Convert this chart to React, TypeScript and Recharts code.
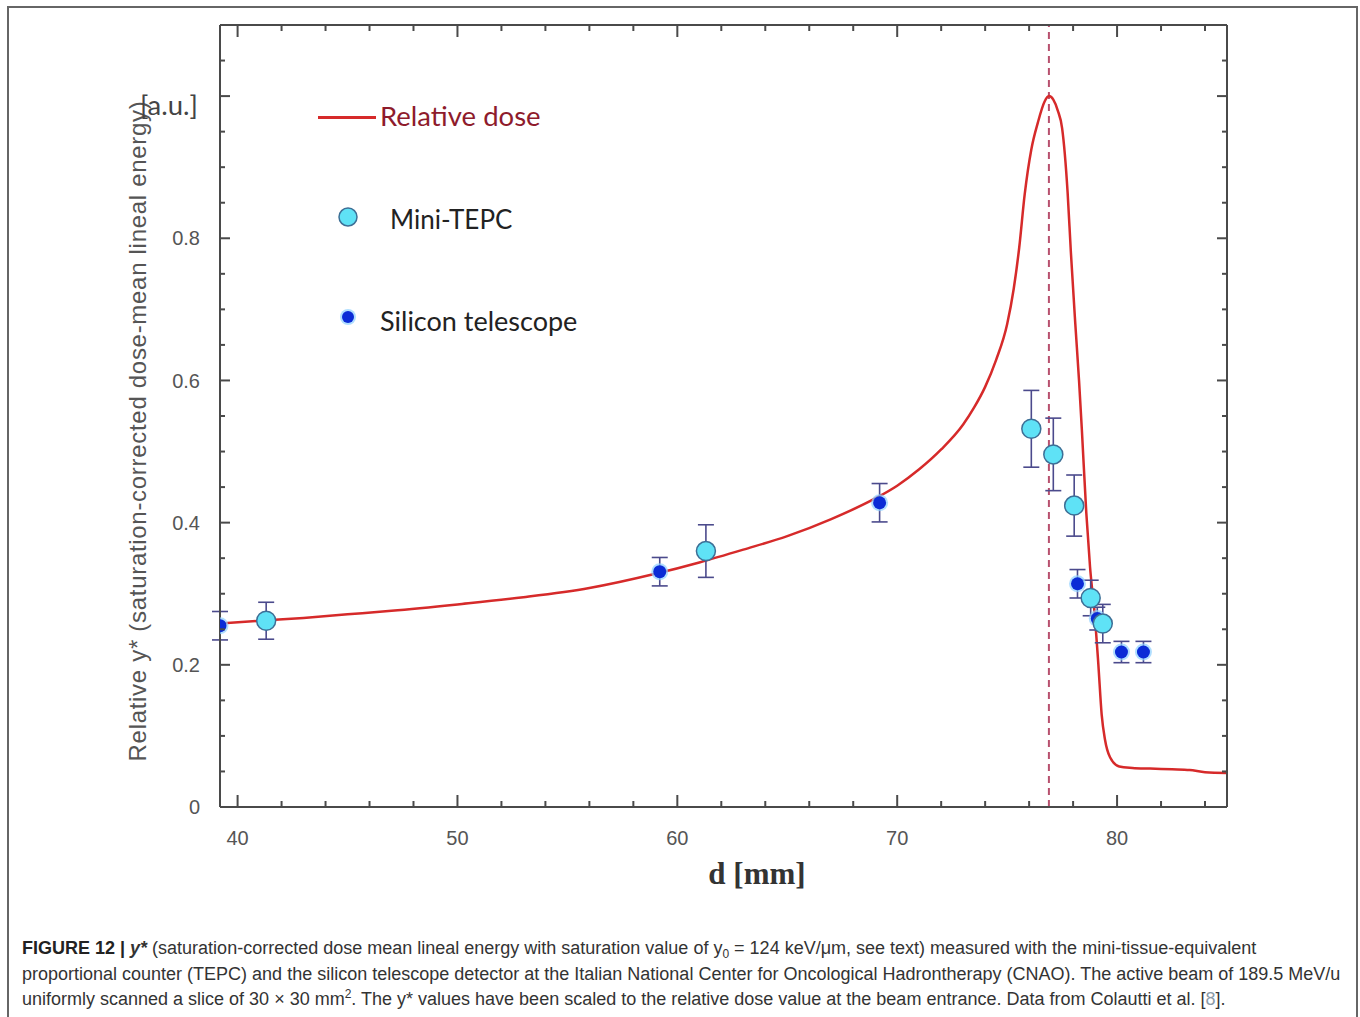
import React from "react";
import {
  ComposedChart,
  Line,
  Scatter,
  ErrorBar,
  XAxis,
  YAxis,
  ReferenceLine,
  Legend,
} from "recharts";

// relative dose curve
const doseX = [
  39.2, 41, 43, 45, 47, 50, 53, 56, 59, 61, 63, 65, 67, 69, 70, 71, 72, 73,
  73.5, 74, 74.5, 75, 75.3, 75.55, 75.8, 76.1, 76.4, 76.7, 76.9, 77.1, 77.3,
  77.5, 77.75, 77.9, 78.1, 78.27, 78.4, 78.6, 78.77, 79.0, 79.15, 79.3, 79.45,
  79.68, 80.1, 80.7, 81.5, 82.5, 83.3, 84, 85,
];
const doseY = [
  0.258, 0.262, 0.266, 0.271, 0.276, 0.285, 0.295, 0.308, 0.328, 0.344, 0.362,
  0.381, 0.405, 0.434, 0.452, 0.475, 0.503, 0.538, 0.562, 0.591, 0.629, 0.679,
  0.729, 0.787, 0.862, 0.925, 0.963, 0.992, 1.0, 0.995, 0.98, 0.955, 0.865,
  0.78, 0.68, 0.6, 0.53, 0.414, 0.338, 0.265, 0.2, 0.13, 0.095, 0.07, 0.057,
  0.055, 0.054, 0.053, 0.052, 0.049, 0.048,
];

// mini-TEPC
const tepcX = [41.3, 61.3, 76.1, 77.1, 78.05, 78.8, 79.35];
const tepcY = [0.262, 0.36, 0.532, 0.496, 0.424, 0.294, 0.258];
const tepcErr = [0.026, 0.037, 0.054, 0.051, 0.043, 0.025, 0.027];

// silicon telescope
const siX = [39.2, 59.2, 69.2, 78.2, 79.1, 80.2, 81.2];
const siY = [0.255, 0.331, 0.428, 0.314, 0.265, 0.218, 0.218];
const siErr = [0.02, 0.02, 0.027, 0.02, 0.016, 0.015, 0.015];

const peakX = 76.9;

const xTicks = [
  40, 42, 44, 46, 48, 50, 52, 54, 56, 58, 60, 62, 64, 66, 68, 70, 72, 74, 76,
  78, 80, 82, 84,
];
const xLabels = [40, 50, 60, 70, 80];
const yTicks = [
  0, 0.05, 0.1, 0.15, 0.2, 0.25, 0.3, 0.35, 0.4, 0.45, 0.5, 0.55, 0.6, 0.65,
  0.7, 0.75, 0.8, 0.85, 0.9, 0.95, 1.0, 1.05,
];
const yMajor = [0, 0.2, 0.4, 0.6, 0.8, 1.0];
const yLabels = [0, 0.2, 0.4, 0.6, 0.8];

const doseData = doseX.map((x, i) => ({ x, y: doseY[i] }));
const tepcData = tepcX.map((x, i) => ({ x, y: tepcY[i], e: tepcErr[i] }));
const siData = siX.map((x, i) => ({ x, y: siY[i], e: siErr[i] }));

const has = (arr: number[], v: number) => arr.some((a) => Math.abs(a - v) < 1e-6);

const AXIS = "#4a4a4a";
const TICK_TXT = "#555";
const ERR = "#4b4a8c";
const labelFont = "'Liberation Sans', Arial, sans-serif";
const legendFont = "Lato, 'Open Sans', sans-serif";

const LeftTick = (p: any) => {
  const v = p.payload.value;
  const ax = p.x + 20;
  const major = has(yMajor, v);
  return (
    <g>
      <line x1={ax} x2={ax + (major ? 10 : 5)} y1={p.y} y2={p.y} stroke={AXIS} strokeWidth={2} />
      {has(yLabels, v) && (
        <text x={p.x} y={p.y} dy="0.36em" textAnchor="end" fontSize={20} fill={TICK_TXT} fontFamily={labelFont}>
          {v === 0 ? "0" : v.toFixed(1)}
        </text>
      )}
    </g>
  );
};

const RightTick = (p: any) => {
  const major = has(yMajor, p.payload.value);
  return <line x1={p.x} x2={p.x - (major ? 10 : 5)} y1={p.y} y2={p.y} stroke={AXIS} strokeWidth={2} />;
};

const BottomTick = (p: any) => {
  const v = p.payload.value;
  const ay = p.y - 31;
  const major = has(xLabels, v);
  return (
    <g>
      <line x1={p.x} x2={p.x} y1={ay} y2={ay - (major ? 12 : 6)} stroke={AXIS} strokeWidth={2} />
      {major && (
        <text x={p.x} y={p.y} dy="0.36em" textAnchor="middle" fontSize={20} fill={TICK_TXT} fontFamily={labelFont}>
          {v}
        </text>
      )}
    </g>
  );
};

const TopTick = (p: any) => {
  const major = has(xLabels, p.payload.value);
  return <line x1={p.x} x2={p.x} y1={p.y} y2={p.y + (major ? 12 : 6)} stroke={AXIS} strokeWidth={2} />;
};

const TepcDot = (p: any) => (
  <circle cx={p.cx} cy={p.cy} r={9.5} fill="#5fe2f6" stroke="#3d6f96" strokeWidth={1.5} />
);

const SiDot = (p: any) => (
  <g>
    <circle cx={p.cx} cy={p.cy} r={8.5} fill="#8fd0ff" opacity={0.7} />
    <circle cx={p.cx} cy={p.cy} r={6.5} fill="#0b2bd6" />
  </g>
);

const LegendBox = () => (
  <div style={{ position: "relative", width: 300, height: 250, fontFamily: legendFont }}>
    <div style={{ position: "absolute", left: 8, top: 24, width: 58, height: 3, background: "#d62a2a" }} />
    <div style={{ position: "absolute", left: 70, top: 7, fontSize: 27.5, color: "#8e1b2c", whiteSpace: "nowrap" }}>
      Relative dose
    </div>
    <svg style={{ position: "absolute", left: 26, top: 113 }} width={24} height={24}>
      <circle cx={12} cy={12} r={9} fill="#5fe2f6" stroke="#3d6f96" strokeWidth={1.5} />
    </svg>
    <div style={{ position: "absolute", left: 80, top: 111, fontSize: 26, color: "#222", whiteSpace: "nowrap" }}>
      Mini-TEPC
    </div>
    <svg style={{ position: "absolute", left: 26, top: 213 }} width={24} height={24}>
      <circle cx={12} cy={12} r={8} fill="#8fd0ff" opacity={0.7} />
      <circle cx={12} cy={12} r={6} fill="#0b2bd6" />
    </svg>
    <div style={{ position: "absolute", left: 70, top: 212, fontSize: 27, color: "#222", whiteSpace: "nowrap" }}>
      Silicon telescope
    </div>
  </div>
);

export default function App() {
  return (
    <div
      style={{
        position: "absolute",
        left: 0,
        top: 0,
        width: 1360,
        height: 1017,
        overflow: "hidden",
        background: "#fff",
      }}
    >
      <div
        style={{
          position: "absolute",
          left: 7,
          top: 6,
          width: 1347,
          height: 1015,
          border: "2px solid #666",
          borderBottom: "none",
        }}
      />
      <div style={{ position: "absolute", left: 0, top: 0 }}>
        <ComposedChart
          width={1360}
          height={900}
          margin={{ top: 24, right: 132, bottom: 33, left: 120 }}
        >
          <XAxis
            dataKey="x"
            type="number"
            domain={[39.2, 85]}
            ticks={xTicks}
            allowDataOverflow
            height={60}
            tickSize={0}
            tickMargin={31}
            tickLine={false}
            interval={0}
            axisLine={{ stroke: AXIS, strokeWidth: 2 }}
            tick={BottomTick}
          />
          <XAxis
            xAxisId="top"
            orientation="top"
            dataKey="x"
            type="number"
            domain={[39.2, 85]}
            ticks={xTicks}
            allowDataOverflow
            height={1}
            tickSize={0}
            tickMargin={0}
            tickLine={false}
            interval={0}
            axisLine={{ stroke: AXIS, strokeWidth: 2 }}
            tick={TopTick}
          />
          <YAxis
            type="number"
            domain={[0, 1.1]}
            ticks={yTicks}
            allowDataOverflow
            width={100}
            tickSize={0}
            tickMargin={20}
            tickLine={false}
            interval={0}
            axisLine={{ stroke: AXIS, strokeWidth: 2 }}
            tick={LeftTick}
          />
          <YAxis
            yAxisId="right"
            orientation="right"
            type="number"
            domain={[0, 1.1]}
            ticks={yTicks}
            allowDataOverflow
            width={1}
            tickSize={0}
            tickMargin={0}
            tickLine={false}
            interval={0}
            axisLine={{ stroke: AXIS, strokeWidth: 2 }}
            tick={RightTick}
          />
          <ReferenceLine x={peakX} stroke="#b8506e" strokeWidth={2} strokeDasharray="7 5" />
          <Line
            data={doseData}
            dataKey="y"
            name="Relative dose"
            type="monotone"
            stroke="#d62a2a"
            strokeWidth={2.5}
            dot={false}
            activeDot={false}
            isAnimationActive={false}
          />
          <Scatter
            data={siData}
            dataKey="y"
            name="Silicon telescope"
            shape={SiDot}
            isAnimationActive={false}
          >
            <ErrorBar dataKey="e" direction="y" width={8} stroke={ERR} strokeWidth={1.6} isAnimationActive={false} />
          </Scatter>
          <Scatter
            data={tepcData}
            dataKey="y"
            name="Mini-TEPC"
            shape={TepcDot}
            isAnimationActive={false}
          >
            <ErrorBar dataKey="e" direction="y" width={8} stroke={ERR} strokeWidth={1.6} isAnimationActive={false} />
          </Scatter>
          <Legend
            layout="vertical"
            align="center"
            verticalAlign="middle"
            wrapperStyle={{ left: 310, top: 92, width: 300, height: 250 }}
            content={LegendBox}
          />
        </ComposedChart>
      </div>

      <div
        style={{
          position: "absolute",
          left: 138,
          top: 431,
          transform: "translate(-50%, -50%) rotate(-90deg)",
          whiteSpace: "nowrap",
          fontFamily: labelFont,
          fontSize: 24,
          letterSpacing: 0.7,
          color: "#555",
        }}
      >
        Relative y* (saturation-corrected dose-mean lineal energy)
      </div>
      <div
        style={{
          position: "absolute",
          left: 140,
          top: 88,
          fontFamily: legendFont,
          fontSize: 27.5,
          color: "#444",
        }}
      >
        [a.u.]
      </div>
      <div
        style={{
          position: "absolute",
          left: 757,
          top: 874,
          transform: "translate(-50%, -50%)",
          fontFamily: "'Liberation Serif', 'Times New Roman', serif",
          fontWeight: "bold",
          fontSize: 31,
          color: "#333",
          whiteSpace: "nowrap",
        }}
      >
        d [mm]
      </div>

      <div
        style={{
          position: "absolute",
          left: 22,
          top: 936,
          fontFamily: labelFont,
          fontSize: 18,
          lineHeight: "25.5px",
          color: "#333",
          whiteSpace: "nowrap",
        }}
      >
        <div>
          <b style={{ color: "#222" }}>FIGURE 12 | </b>
          <b>
            <i>y*</i>
          </b>{" "}
          (saturation-corrected dose mean lineal energy with saturation value of y
          <span style={{ fontSize: 12, position: "relative", top: 4, lineHeight: 0 }}>0</span> = 124 keV/μm, see text)
          measured with the mini-tissue-equivalent
        </div>
        <div>
          proportional counter (TEPC) and the silicon telescope detector at the Italian National Center for Oncological
          Hadrontherapy (CNAO). The active beam of 189.5 MeV/u
        </div>
        <div>
          uniformly scanned a slice of 30 × 30 mm
          <span style={{ fontSize: 12, position: "relative", top: -7, lineHeight: 0 }}>2</span>. The y* values have been
          scaled to the relative dose value at the beam entrance. Data from Colautti et al. [
          <span style={{ color: "#8a9aa8" }}>8</span>].
        </div>
      </div>
    </div>
  );
}
